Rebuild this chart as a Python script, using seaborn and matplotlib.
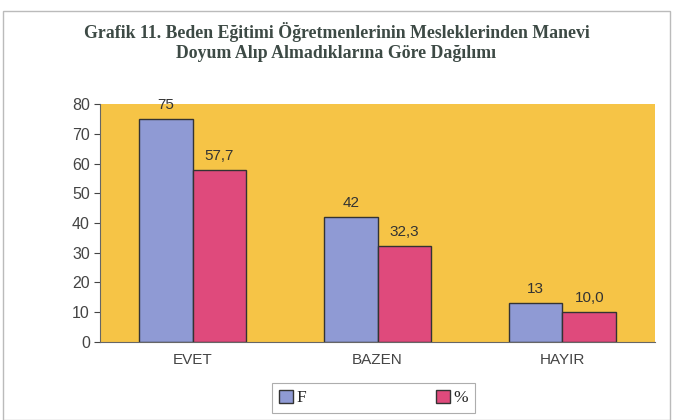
import pandas as pd
import seaborn as sns
import matplotlib.pyplot as plt
from matplotlib.patches import Rectangle

# Data
categories = ["EVET", "BAZEN", "HAYIR"]
freq = [75, 42, 13]
percent = [57.7, 32.3, 10.0]
series_names = ["F", "%"]

df = pd.DataFrame({
    "kategori": categories * 2,
    "seri": [series_names[0]] * 3 + [series_names[1]] * 3,
    "deger": freq + percent,
})

sns.set_style("white")
plt.rcParams["font.family"] = ["Liberation Sans", "DejaVu Sans"]

fig = plt.figure(figsize=(6.73, 4.2), dpi=100)
ax = fig.add_axes([0.149, 0.186, 0.824, 0.566])
ax.set_facecolor("#f6c446")

colors = ["#8f9ad4", "#df4a7c"]
sns.barplot(data=df, x="kategori", y="deger", hue="seri", palette=colors,
            width=0.58, edgecolor="#333333", linewidth=1.0, saturation=1,
            ax=ax, legend=False)

labels = [str(v) for v in freq] + [f"{v:.1f}".replace(".", ",") for v in percent]
for container, labs in zip(ax.containers, [labels[:3], labels[3:]]):
    ax.bar_label(container, labels=labs, padding=5, fontsize=11, color="#333333")

ax.set_ylim(0, 80)
ax.set_yticks(range(0, 81, 10))
ax.set_xlim(-0.5, 2.5)
ax.set_xlabel("")
ax.set_ylabel("")
ax.tick_params(axis="y", labelsize=11.5, colors="#444444", length=4, left=True)
ax.tick_params(axis="x", labelsize=11, colors="#444444", length=0, pad=8)
ax.set_xticks([0, 1, 2])
ax.set_xticks([0.5, 1.5], minor=True)
ax.tick_params(axis="x", which="minor", length=4, color="#888888")
for side in ["top", "right"]:
    ax.spines[side].set_visible(False)
ax.spines["left"].set_color("#666666")
ax.spines["bottom"].set_color("#666666")

fig.text(0.5, 0.925, "Grafik 11. Beden Eğitimi Öğretmenlerinin Mesleklerinden Manevi",
         ha="center", va="center", fontsize=12.8, fontweight="bold",
         family=["Liberation Serif", "DejaVu Serif"], color="#3d4a45")
fig.text(0.5, 0.873, "Doyum Alıp Almadıklarına Göre Dağılımı",
         ha="center", va="center", fontsize=12.8, fontweight="bold",
         family=["Liberation Serif", "DejaVu Serif"], color="#3d4a45")

# legend box
handles = [Rectangle((0, 0), 1, 1, facecolor=c, edgecolor="#333333") for c in colors]
leg = fig.legend(handles, series_names, loc="center", bbox_to_anchor=(0.555, 0.052),
                 ncol=2, frameon=True, fancybox=False, edgecolor="#999999",
                 handlelength=0.8, handleheight=0.8, columnspacing=7.5,
                 handletextpad=0.2, borderpad=0.4,
                 prop={"family": ["Liberation Serif", "DejaVu Serif"], "size": 12.5})
leg.get_frame().set_linewidth(0.8)

# outer frame
fig.patches.append(Rectangle((0.005, 0.0), 0.99, 0.975, transform=fig.transFigure,
                             fill=False, edgecolor="#bbbbbb", linewidth=1.0))

fig.savefig("out.png", dpi=100)
